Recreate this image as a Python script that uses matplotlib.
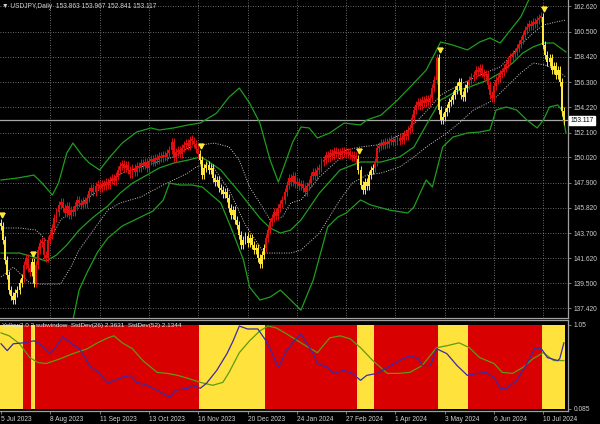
import matplotlib.pyplot as plt
import numpy as np

# USDJPY daily closes (bar 0 = 5 Jul 2023)
first_open = 144.55
closes = [
    144.30, 143.13, 141.47, 140.21, 138.95, 138.45, 138.12, 138.70, 138.95, 139.54,
    139.96, 141.04, 141.62, 140.79, 140.46, 141.29, 139.54, 141.04, 142.29, 142.88,
    142.96, 141.88, 141.62, 143.13, 143.55, 144.13, 144.96, 145.46, 146.05, 146.30,
    145.80, 145.38, 145.97, 145.21, 145.63, 145.46, 145.97, 146.47, 146.22, 146.05,
    146.38, 146.13, 146.63, 147.22, 147.47, 147.13, 147.63, 147.72, 147.47, 147.80,
    147.63, 147.97, 147.72, 148.14, 148.30, 148.05, 148.47, 148.97, 149.30, 149.47,
    149.14, 149.39, 148.97, 148.64, 149.14, 148.80, 149.30, 149.14, 149.55, 149.39,
    149.64, 149.14, 149.72, 149.89, 149.64, 149.97, 149.80, 150.14, 149.97, 150.22,
    150.06, 150.39, 150.64, 151.31, 149.97, 150.47, 150.64, 150.31, 150.81, 151.06,
    151.22, 150.97, 151.47, 151.39, 151.14, 150.72, 150.31, 149.80, 148.55, 149.14,
    149.39, 148.97, 149.14, 148.30, 147.97, 148.14, 147.47, 147.30, 146.97, 147.13,
    146.63, 145.80, 145.21, 145.63, 144.80, 144.38, 143.55, 142.71, 143.13, 143.46,
    142.88, 143.29, 142.71, 142.29, 142.46, 141.62, 141.12, 141.88, 142.46, 143.29,
    143.96, 144.63, 144.96, 145.46, 145.13, 145.80, 146.13, 146.47, 147.13, 147.72,
    148.30, 147.97, 148.47, 147.80, 147.97, 147.63, 147.80, 147.47, 147.13, 147.63,
    147.88, 148.47, 148.80, 148.47, 148.97, 149.14, 149.64, 149.80, 150.22, 149.97,
    150.39, 150.14, 150.56, 150.31, 150.47, 150.22, 150.56, 150.39, 150.31, 150.47,
    150.22, 150.06, 150.14, 149.89, 148.97, 147.72, 147.30, 147.97, 147.63, 148.55,
    148.97, 149.14, 149.64, 150.81, 150.97, 151.22, 151.06, 151.31, 151.14, 151.39,
    151.47, 151.31, 151.56, 151.39, 151.64, 151.47, 151.97, 151.81, 152.31, 152.48,
    153.31, 153.98, 154.40, 154.65, 154.31, 154.81, 154.56, 154.90, 154.65, 154.98,
    155.81, 156.48, 158.32, 153.98, 153.14, 153.39, 153.81, 154.15, 154.65, 154.81,
    155.23, 155.65, 155.98, 156.32, 155.23, 155.06, 155.81, 156.07, 156.48, 156.73,
    156.90, 157.32, 157.15, 157.48, 157.07, 156.82, 156.98, 156.07, 155.23, 154.98,
    155.98, 156.48, 156.65, 156.98, 157.15, 157.48, 157.82, 158.15, 158.40, 158.65,
    158.82, 159.15, 159.49, 159.82, 160.24, 160.66, 160.91, 161.16, 160.99, 161.32,
    161.16, 161.49, 161.66, 161.74, 159.40, 158.57, 157.98, 158.32, 157.32, 157.65,
    156.90, 157.32, 156.32, 153.863, 153.117,
]

# bars where the indicator is in "yellow" state (inclusive)
yellow_spans = [(0, 10), (15, 16), (97, 128), (174, 181), (213, 227), (264, 274)]
arrow_bars = [0, 15, 97, 174, 213, 264]

# outer bands (green) and inner bands (dotted)
upper_x = [0, 8, 16, 20, 25, 28, 32, 35, 40, 43, 48, 53, 59, 66, 73, 77, 84, 91, 97, 105,
           111, 116, 121, 126, 131, 135, 138, 142, 146, 150, 154, 160, 167, 175, 178, 185, 193, 201, 207, 214,
           220, 227, 233, 238, 243, 248, 253, 258, 265, 275]
upper_y = [148.14, 148.30, 148.55, 147.88, 146.88, 147.88, 150.39, 151.22, 150.06, 149.55,
           148.97, 150.06, 151.22, 152.14, 152.48, 152.31, 152.48, 152.73, 152.89, 153.73,
           155.06, 155.81, 154.56, 152.89, 149.80, 147.97, 149.39, 151.31, 152.56, 152.48,
           151.64, 152.06, 152.89, 152.73, 153.14, 153.56, 154.81, 156.23, 157.32, 159.65,
           159.40, 158.99, 159.65, 159.99, 159.57, 160.66, 161.74, 163.58, 165.25, 165.66]

mid_x = [0, 9, 16, 22, 27, 32, 38, 45, 52, 58, 64, 71, 77, 84, 91, 97, 100, 107, 111, 116,
         121, 126, 131, 136, 141, 146, 155, 165, 175, 185, 194, 201, 207, 214, 223, 228, 237, 243, 249, 254,
         259, 264, 269, 275]
mid_y = [142.04, 142.04, 141.71, 141.37, 141.88, 142.71, 143.96, 145.05, 145.97, 147.05,
         147.88, 148.55, 149.14, 149.55, 149.80, 150.06, 149.80, 148.97, 148.14, 147.13,
         146.05, 144.96, 144.13, 143.71, 143.96, 144.80, 147.05, 148.97, 149.64, 149.64,
         150.06, 150.89, 152.73, 154.81, 155.65, 155.90, 156.48, 157.07, 157.90, 158.74,
         159.24, 159.57, 159.57, 158.82]

lower_x = [19, 29, 35, 38, 42, 47, 52, 59, 68, 74, 79, 82, 87, 93, 98, 107, 113, 118, 121, 126,
           131, 136, 141, 146, 152, 159, 164, 168, 175, 180, 189, 198, 201, 204, 207, 210, 215, 220, 227, 233,
           238, 241, 246, 251, 256, 261, 264, 267, 271, 273, 275]
lower_y = [132.28, 134.36, 136.45, 138.95, 140.46, 142.12, 143.29, 144.30, 145.05, 145.55,
           146.47, 147.88, 147.72, 147.72, 147.55, 146.22, 143.71, 141.47, 139.20, 138.12,
           138.37, 138.95, 138.12, 137.28, 139.80, 144.21, 145.05, 145.38, 146.47, 146.05,
           145.63, 145.38, 145.88, 147.05, 148.14, 147.55, 150.89, 151.72, 152.06, 152.14,
           152.31, 153.98, 154.23, 153.98, 153.14, 152.48, 153.14, 154.23, 154.40, 153.98,
           152.06]

dot_up_x = [0, 9, 17, 20, 23, 29, 35, 43, 52, 59, 68, 76, 84, 91, 97, 104, 111, 116, 121, 126,
            131, 137, 141, 146, 155, 164, 168, 175, 183, 189, 196, 203, 209, 214, 223, 233, 243, 253, 259, 264,
            270, 275]
dot_up_y = [144.13, 144.13, 143.96, 143.46, 142.88, 144.80, 145.63, 146.72, 147.88, 148.72,
            149.22, 149.64, 150.06, 150.81, 151.06, 151.22, 150.89, 149.80, 147.55, 146.22,
            144.80, 145.05, 146.22, 146.47, 148.39, 149.80, 150.64, 150.89, 151.06, 151.47,
            152.06, 153.14, 154.23, 155.23, 156.07, 156.90, 157.57, 159.40, 160.41, 161.07,
            161.32, 161.49]

dot_lo_x = [0, 6, 14, 19, 29, 34, 38, 45, 52, 58, 68, 77, 84, 91, 95, 102, 111, 119, 128, 141,
            146, 155, 165, 171, 178, 185, 194, 201, 207, 217, 223, 230, 237, 241, 246, 253, 259, 265, 270, 275]
dot_lo_y = [140.04, 140.87, 139.54, 139.45, 139.45, 140.87, 142.29, 143.96, 145.63, 146.22,
            146.72, 147.55, 148.14, 148.72, 149.22, 149.55, 147.30, 144.38, 142.04, 142.04,
            142.29, 143.71, 146.47, 147.88, 148.55, 148.72, 149.22, 150.06, 150.89, 152.06,
            152.89, 153.98, 154.56, 155.06, 155.90, 157.07, 157.90, 157.73, 157.32, 156.73]

# subwindow: StdDev(26) and StdDev(52) lines (scaled window)
sd26_x = [0, 3, 6, 11, 16, 19, 24, 26, 30, 34, 38, 41, 43, 48, 52, 55, 59, 63, 66, 71,
          76, 82, 85, 91, 93, 97, 100, 105, 110, 113, 116, 120, 125, 129, 132, 135, 139, 142, 146, 149,
          152, 154, 159, 162, 167, 171, 175, 178, 183, 188, 194, 199, 203, 205, 209, 212, 217, 222, 227, 232,
          236, 240, 243, 246, 251, 256, 260, 263, 266, 271, 272, 274]
sd26_y = [0.834, 0.755, 0.834, 0.845, 0.868, 0.834, 0.721, 0.777, 0.914, 0.845,
          0.777, 0.675, 0.584, 0.494, 0.380, 0.414, 0.448, 0.471, 0.391, 0.357,
          0.301, 0.221, 0.301, 0.323, 0.357, 0.323, 0.380, 0.528, 0.721, 0.868,
          1.038, 1.004, 1.004, 0.868, 0.721, 0.562, 0.755, 0.845, 0.948, 0.834,
          0.721, 0.607, 0.562, 0.494, 0.528, 0.494, 0.414, 0.471, 0.494, 0.562,
          0.641, 0.698, 0.664, 0.584, 0.584, 0.777, 0.721, 0.584, 0.471, 0.494,
          0.505, 0.448, 0.323, 0.323, 0.414, 0.607, 0.789, 0.777, 0.675, 0.641,
          0.664, 0.845]
sd52_x = [0, 4, 9, 14, 18, 22, 29, 35, 42, 47, 52, 55, 59, 64, 69, 76, 81, 86, 91, 97,
          103, 108, 111, 116, 121, 126, 130, 134, 139, 146, 154, 160, 165, 170, 175, 181, 188, 193, 199, 205,
          212, 217, 223, 228, 233, 240, 244, 249, 254, 259, 264, 269, 274]
sd52_y = [0.959, 0.925, 0.834, 0.675, 0.618, 0.607, 0.664, 0.721, 0.777, 0.845,
          0.902, 0.925, 0.845, 0.777, 0.641, 0.505, 0.494, 0.471, 0.437, 0.391,
          0.357, 0.391, 0.505, 0.732, 0.868, 0.982, 1.038, 1.016, 0.948, 0.845,
          0.732, 0.902, 0.925, 0.891, 0.789, 0.641, 0.494, 0.494, 0.505, 0.584,
          0.789, 0.811, 0.845, 0.789, 0.675, 0.607, 0.505, 0.494, 0.562, 0.664,
          0.732, 0.641, 0.641]

price_ticks = [137.42, 139.50, 141.62, 143.70, 145.82, 147.90, 150.02,
               152.10, 154.22, 156.30, 158.42, 160.50, 162.62]
date_bars = [0, 24, 48, 72, 96, 120, 144, 168, 192, 216, 240, 264]
date_labels = ['5 Jul 2023', '8 Aug 2023', '11 Sep 2023', '13 Oct 2023', '16 Nov 2023',
               '20 Dec 2023', '24 Jan 2024', '27 Feb 2024', '1 Apr 2024', '3 May 2024',
               '6 Jun 2024', '10 Jul 2024']

RED = '#e01010'
YEL = '#ffe83a'
TXT = '#d0d0d0'
GRID = '#8c8c8c'
plt.rcParams['font.family'] = ['Liberation Sans', 'DejaVu Sans']

n = len(closes)
idx = np.arange(n)
closes = np.array(closes)
opens = np.concatenate([[first_open], closes[:-1]])
is_yellow = np.zeros(n, dtype=bool)
for a, b in yellow_spans:
    is_yellow[a:b + 1] = True
colors = [YEL if y else RED for y in is_yellow]

fig = plt.figure(figsize=(6, 4.24), dpi=100, facecolor='black')
ax = fig.add_axes([0, 1 - 318 / 424, 568 / 600, 318 / 424], facecolor='black')
ax2 = fig.add_axes([0, 1 - 411 / 424, 568 / 600, 91 / 424], facecolor='black', sharex=ax)

# main pane
for p in price_ticks:
    ax.axhline(p, color=GRID, lw=0.6, ls=(0, (1, 2)), zorder=0)
for b in date_bars[1:]:
    ax.axvline(b, color=GRID, lw=0.6, ls=(0, (1, 2)), zorder=0)
ax.axhline(closes[-1], color='#a8a8a8', lw=0.9, zorder=1)

ax.plot(upper_x, upper_y, color='#1e9e1e', lw=0.9, zorder=2)
ax.plot(mid_x, mid_y, color='#1e9e1e', lw=0.9, zorder=2)
ax.plot(lower_x, lower_y, color='#1e9e1e', lw=0.9, zorder=2)
ax.plot(dot_up_x, dot_up_y, color='#c8c8c8', lw=0.7, ls=(0, (1, 1.5)), zorder=2)
ax.plot(dot_lo_x, dot_lo_y, color='#c8c8c8', lw=0.7, ls=(0, (1, 1.5)), zorder=2)

bottoms = np.minimum(opens, closes)
heights = np.maximum(np.abs(closes - opens), 0.15)
ax.bar(idx, heights, bottom=bottoms, width=0.95, color=colors, linewidth=0, zorder=3)
ax.vlines(idx, bottoms - 0.35, bottoms + heights + 0.35, colors=colors, lw=0.7, zorder=3)

for b in arrow_bars:
    top = max(opens[b], closes[b]) + 0.35
    ax.plot(b + 0.5, top + 0.3, marker='v', ms=3.5, color=YEL, zorder=4)
    ax.plot(b + 0.5, top + 0.5, marker='_', ms=4, mew=0.8, color=YEL, zorder=4)

ax.set_xlim(-0.5, 276)
ax.set_ylim(136.62, 163.16)
ax.yaxis.tick_right()
ax.set_yticks(price_ticks)
ax.set_yticklabels(['%.3f' % p for p in price_ticks])
ax.tick_params(axis='y', colors='#909090', labelcolor=TXT, labelsize=4.8, length=2, width=0.6, pad=2)
ax.tick_params(axis='x', bottom=False, labelbottom=False)
for s in ['left', 'top']:
    ax.spines[s].set_visible(False)
for s in ['right', 'bottom']:
    ax.spines[s].set_color('#a0a0a0')
    ax.spines[s].set_linewidth(0.9)

ax.text(1.004, closes[-1], '%.3f' % closes[-1], transform=ax.get_yaxis_transform(),
        fontsize=4.8, color='black', va='center', ha='left',
        bbox=dict(boxstyle='square,pad=0.2', fc='white', ec='white'), zorder=5)
fig.text(0.003, 0.993, '\u25bc USDJPY,Daily  153.863 153.967 152.841 153.117',
         color=TXT, fontsize=4.8, va='top', ha='left')

# subwindow
ax2.bar(idx, 0.965, bottom=0.085, width=1.0, color=['#ffe23c' if y else '#d80000' for y in is_yellow],
        linewidth=0, zorder=1)
ax2.plot(sd52_x, sd52_y, color='#5e9a12', lw=0.9, zorder=2)
ax2.plot(sd26_x, sd26_y, color='#3a2aa8', lw=0.9, zorder=3)
ax2.text(0.004, 0.965, 'Yellow2.0 2 subwindow  StdDev(26) 2.3631  StdDev(52) 2.1344',
         transform=ax2.transAxes, color='#e6e6e6', fontsize=4.6, va='top', ha='left', zorder=4)
ax2.set_ylim(0.062, 1.107)
ax2.yaxis.tick_right()
ax2.set_yticks([0.085, 1.05])
ax2.set_yticklabels(['0.085', '1.05'])
ax2.tick_params(axis='y', colors='#909090', labelcolor=TXT, labelsize=4.8, length=2, width=0.6, pad=2)
ax2.set_xticks(date_bars)
ax2.set_xticklabels(date_labels, ha='left')
ax2.tick_params(axis='x', colors='#909090', labelcolor=TXT, labelsize=4.8, length=2, width=0.6, pad=1.5)
ax2.spines['left'].set_visible(False)
for s in ['right', 'bottom', 'top']:
    ax2.spines[s].set_color('#a0a0a0')
    ax2.spines[s].set_linewidth(0.9)

fig.savefig('out.png', dpi=100, facecolor='black')
